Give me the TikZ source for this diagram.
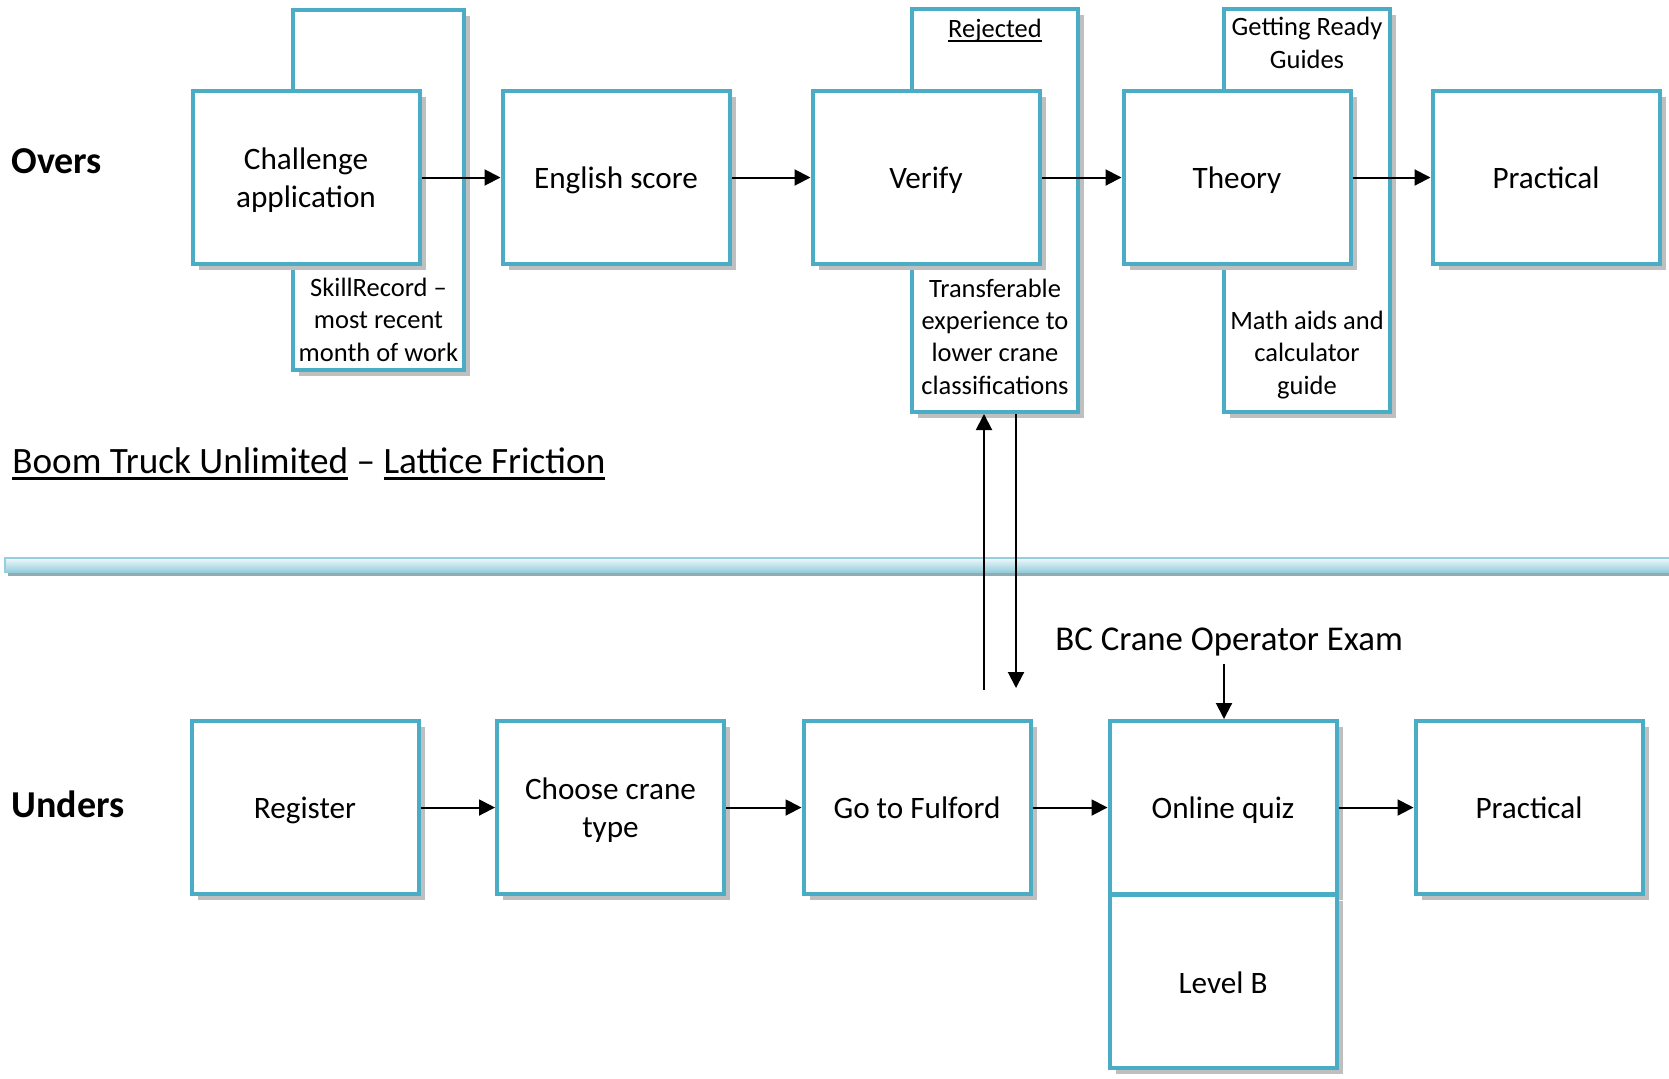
\documentclass[tikz,border=0pt]{standalone}
\usepackage{fontspec}
\setmainfont{Carlito}
\usetikzlibrary{shadows,arrows.meta}
\definecolor{boxblue}{RGB}{75,172,198}
\definecolor{shadowgray}{RGB}{191,191,191}
\definecolor{barblue}{RGB}{150,206,220}
\definecolor{barshadow}{RGB}{146,170,178}
\definecolor{barlight}{RGB}{240,248,251}
\newcommand\myul[3]{\setbox0\hbox{#1}\rlap{\rule[-#2]{\wd0}{#3}}\box0\relax}
\begin{document}
\begin{tikzpicture}[x=0.5pt,y=-0.5pt,
  boxbase/.style={draw=boxblue, line width=2pt, fill=white, inner sep=0pt,
    drop shadow={shadow xshift=3.2pt, shadow yshift=-3.2pt, fill=shadowgray, opacity=1}},
  stepbox/.style={boxbase, minimum width=113.5pt, minimum height=86.5pt},
  sidebox/.style={boxbase, minimum height=201.5pt},
  bigtxt/.style={anchor=base, inner sep=0pt, align=center, font=\fontsize{15.6pt}{18.6pt}\selectfont},
  smalltxt/.style={anchor=base, inner sep=0pt, align=center, font=\fontsize{13.25pt}{16.15pt}\selectfont},
  rowlabel/.style={anchor=base west, inner sep=0pt, font=\fontsize{19pt}{22pt}\selectfont\bfseries},
  flow/.style={line width=1pt, -{Triangle[length=8pt,width=8pt]}}
]
\useasboundingbox (0,0) rectangle (1669,1078);
\fill[white] (0,0) rectangle (1669,1078);

% separator bar
\fill[barshadow] (8,563) rectangle (1669,576);
\shade[top color=barlight, bottom color=barblue, draw=barblue, line width=0.8pt] (5,558) rectangle (1675,572);

% side boxes (behind)
\node[sidebox, minimum width=85.5pt, minimum height=180pt] (skill) at (378.5,190) {};
\node[sidebox, minimum width=83pt] (rej) at (995,210.5) {};
\node[sidebox, minimum width=83pt] (ready) at (1307,210.5) {};

% top row
\node[stepbox] (chal) at (306,177.5) {};
\node[stepbox] (eng) at (616,177.5) {};
\node[stepbox] (ver) at (926,177.5) {};
\node[stepbox] (theo) at (1237,177.5) {};
\node[stepbox] (prac1) at (1546,177.5) {};

% bottom row
\node[stepbox] (reg) at (305,807.5) {};
\node[stepbox] (choose) at (610.5,807.5) {};
\node[stepbox] (go) at (917,807.5) {};
\node[stepbox] (quiz) at (1223,807.5) {};
\node[stepbox] (level) at (1223,981) {};
\node[stepbox] (prac2) at (1529,807.5) {};

% texts (base anchor = baseline of the last line)
\node[bigtxt] (tchal) at (306,207) {Challenge\\application};
\node[bigtxt] (teng) at (616,188) {English score};
\node[bigtxt] (tver) at (926,188) {Verify};
\node[bigtxt] (ttheo) at (1237,188) {Theory};
\node[bigtxt] (tprac1) at (1546,188) {Practical};
\node[smalltxt] (tskill) at (378.5,361) {SkillRecord –\\most recent\\month of work};
\node[smalltxt] (trej) at (995,37) {\myul{Rejected}{2.6pt}{0.9pt}};
\node[smalltxt] (ttrans) at (995,394) {Transferable\\experience to\\lower crane\\classifications};
\node[smalltxt] (tready) at (1307,68) {Getting Ready\\Guides};
\node[smalltxt] (tmath) at (1307,394) {Math aids and\\calculator\\guide};
\node[bigtxt] (treg) at (305,818) {Register};
\node[bigtxt] (tchoose) at (610.5,837) {Choose crane\\type};
\node[bigtxt] (tgo) at (917,818) {Go to Fulford};
\node[bigtxt] (tquiz) at (1223,818) {Online quiz};
\node[bigtxt] (tlevel) at (1223,993) {Level B};
\node[bigtxt] (tprac2) at (1529,818) {Practical};

\node[rowlabel] (overs) at (11,173) {Overs};
\node[rowlabel] (unders) at (11,817) {Unders};
\node[anchor=base west, inner sep=0pt, font=\fontsize{18.6pt}{22pt}\selectfont] (title) at (12,473)
  {\myul{Boom Truck Unlimited}{3.25pt}{1.5pt} – \myul{Lattice Friction}{3.25pt}{1.5pt}};
\node[anchor=base west, inner sep=0pt, font=\fontsize{17.4pt}{20pt}\selectfont] (bc) at (1055,650) {BC Crane Operator Exam};

% connectors
\draw[flow] (chal) -- (eng);
\draw[flow] (eng) -- (ver);
\draw[flow] (ver) -- (theo);
\draw[flow] (theo) -- (prac1);
\draw[flow] (reg) -- (choose);
\draw[flow] (choose) -- (go);
\draw[flow] (go) -- (quiz);
\draw[flow] (quiz) -- (prac2);

\coordinate (upfoot) at (984,690);
\coordinate (downfoot) at (1016,688);
\draw[flow] (upfoot) -- (upfoot |- rej.south);
\draw[flow] (downfoot |- rej.south) -- (downfoot);
\coordinate (bcfoot) at (1224,664);
\draw[flow] (bcfoot) -- (bcfoot |- quiz.north);
\end{tikzpicture}
\end{document}
